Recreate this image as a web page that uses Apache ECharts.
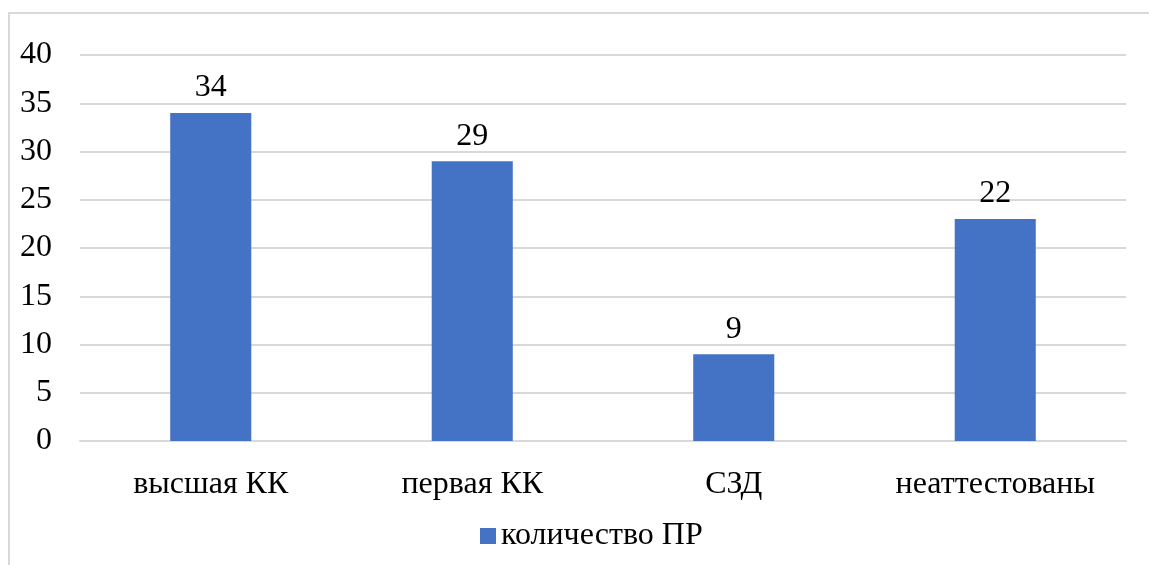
<!DOCTYPE html>
<html>
<head>
<meta charset="utf-8">
<script src="https://cdn.jsdelivr.net/npm/echarts@6/dist/echarts.min.js"></script>
<style>
    html, body { margin: 0; padding: 0; background: #ffffff; }
    #chart { width: 1149px; height: 565px; }
</style>
</head>
<body>
<div id="chart"></div>
<script>
// categories and values
var categories = ['высшая КК', 'первая КК', 'СЗД', 'неаттестованы'];
var values = [34, 29, 9, 23];
// labels as printed on the chart (last one says 22 though the bar reaches 23)
var labels = ['34', '29', '9', '22'];
var seriesName = 'количество ПР';

var myChart = echarts.init(document.getElementById('chart'));
var font = '"Liberation Serif", "Times New Roman", serif';
var option = {
    backgroundColor: '#FFFFFF',
    animation: false,
    graphic: [{
        type: 'rect',
        shape: { x: 9, y: 13, width: 1400, height: 800 },
        style: { fill: 'none', stroke: '#d9d9d9', lineWidth: 2 },
        silent: true
    }],
    legend: {
        data: [seriesName],
        bottom: 8,
        left: 475,
        itemWidth: 16,
        itemHeight: 16,
        itemGap: 7,
        icon: 'rect',
        textStyle: { fontFamily: font, fontSize: 32, color: '#000' }
    },
    grid: {
        top: 55,
        left: 80,
        right: 23,
        bottom: 124
    },
    xAxis: {
        type: 'category',
        data: categories,
        axisLine: { lineStyle: { color: '#d9d9d9', width: 2 } },
        axisTick: { show: false },
        axisLabel: { fontFamily: font, fontSize: 32, color: '#000', margin: 28 }
    },
    yAxis: {
        type: 'value',
        min: 0,
        max: 40,
        interval: 5,
        axisLine: { show: false },
        axisTick: { show: false },
        splitLine: { lineStyle: { color: '#d9d9d9', width: 2 } },
        axisLabel: { fontFamily: font, fontSize: 32, color: '#000', margin: 28 }
    },
    series: [{
        name: seriesName,
        type: 'bar',
        data: values,
        barWidth: '31%',
        itemStyle: { color: '#4472C4' },
        label: {
            show: true,
            position: 'top',
            distance: 9,
            fontFamily: font,
            fontSize: 32,
            color: '#000',
            formatter: function (p) { return labels[p.dataIndex]; }
        }
    }]
};
myChart.setOption(option);
</script>
</body>
</html>
